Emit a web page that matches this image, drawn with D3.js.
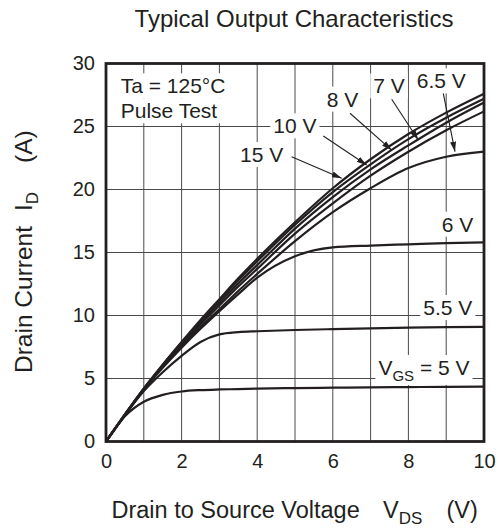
<!DOCTYPE html>
<html>
<head>
<meta charset="utf-8">
<script src="https://cdn.jsdelivr.net/npm/d3@7"></script>
<style>
  body { margin: 0; background: #fff; }
  text { font-family: "Liberation Sans", Arial, sans-serif; fill: #231f20; }
</style>
</head>
<body>
<div id="chart"></div>
<script>
// drain-source voltage samples (V)
var vds = [0, 0.5, 1, 1.5, 2, 2.5, 3, 3.5, 4, 5, 6, 7, 8, 9, 10]

// drain current (A) per gate voltage
var id5V  = [0, 2.0, 3.15, 3.7, 3.97, 4.08, 4.13, 4.16, 4.2, 4.24, 4.27, 4.3, 4.32, 4.34, 4.35]
var id55V = [0, 2.1, 4.0, 5.5, 6.8, 7.9, 8.5, 8.68, 8.75, 8.85, 8.92, 8.98, 9.03, 9.07, 9.1]
var id6V  = [0, 2.1, 4.1, 5.85, 7.45, 8.95, 10.35, 11.7, 13.0, 14.7, 15.4, 15.55, 15.65, 15.75, 15.8]
var id65V = [0, 2.1, 4.15, 5.95, 7.6, 9.1, 10.5, 11.95, 13.3, 15.9, 18.2, 20.1, 21.7, 22.6, 23.0]
var id7V  = [0, 2.1, 4.15, 6.0, 7.7, 9.3, 10.8, 12.3, 13.7, 16.5, 18.9, 21.1, 23.0, 24.7, 26.2]
var id8V  = [0, 2.15, 4.2, 6.05, 7.8, 9.45, 11.0, 12.55, 14.0, 16.9, 19.4, 21.6, 23.5, 25.3, 26.9]
var id10V = [0, 2.15, 4.2, 6.05, 7.85, 9.55, 11.2, 12.8, 14.3, 17.2, 19.8, 22.0, 24.0, 25.7, 27.2]
var id15V = [0, 2.15, 4.2, 6.1, 7.9, 9.65, 11.3, 12.95, 14.5, 17.4, 20.1, 22.4, 24.4, 26.1, 27.6]

var xTicks = [0, 2, 4, 6, 8, 10]
var yTicks = [0, 5, 10, 15, 20, 25, 30]

var series = [id5V, id55V, id6V, id65V, id7V, id8V, id10V, id15V]

var W = 502, H = 529
var x = d3.scaleLinear().domain([0, 10]).range([106, 484])
var y = d3.scaleLinear().domain([0, 30]).range([441.5, 63.5])

var svg = d3.select('#chart').append('svg')
  .attr('width', W).attr('height', H)

// grid
var grid = svg.append('g').attr('stroke', '#4a4a4a').attr('stroke-width', 1)
grid.selectAll('line.v').data(d3.range(1, 10)).enter().append('line')
  .attr('x1', function(d){ return x(d) }).attr('x2', function(d){ return x(d) })
  .attr('y1', y(0)).attr('y2', y(30))
grid.selectAll('line.h').data([5, 10, 15, 20, 25]).enter().append('line')
  .attr('y1', function(d){ return y(d) }).attr('y2', function(d){ return y(d) })
  .attr('x1', x(0)).attr('x2', x(10))

// labels with white boxes (they cut the grid)
var labels = [
  {t: '15 V', x: 3.545, y: 22.18},
  {t: '10 V', x: 4.426, y: 24.46},
  {t: '8 V', x: 5.839, y: 26.57},
  {t: '7 V', x: 7.071, y: 27.63},
  {t: '6.5 V', x: 8.22, y: 28.03},
  {t: '6 V', x: 8.881, y: 16.65},
  {t: '5.5 V', x: 8.394, y: 10.04}
]
var arrows = [
  {x1: 4.91, y1: 22.6, x2: 6.235, y2: 20.89},
  {x1: 5.749, y1: 24.25, x2: 6.897, y2: 21.94},
  {x1: 6.455, y1: 26.05, x2: 7.558, y2: 23.13},
  {x1: 7.558, y1: 27.16, x2: 8.262, y2: 23.93},
  {x1: 8.923, y1: 27.63, x2: 9.233, y2: 23.0}
]

var ann = svg.append('g')
var lab = ann.selectAll('text.lab').data(labels).enter().append('text')
  .attr('class', 'lab')
  .attr('x', function(d){ return x(d.x) })
  .attr('y', function(d){ return y(d.y) })
  .attr('font-size', 21)
  .text(function(d){ return d.t })

var vgs = ann.append('text').attr('x', x(7.206)).attr('y', y(5.28)).attr('font-size', 21)
vgs.append('tspan').text('V')
vgs.append('tspan').attr('font-size', 15).attr('dy', 6).text('GS')
vgs.append('tspan').attr('dy', -6).text(' = 5 V')

var ta = ann.append('g')
ta.append('text').attr('x', x(0.389)).attr('y', y(27.63)).attr('font-size', 21).text('Ta = 125\u00B0C')
ta.append('text').attr('x', x(0.389)).attr('y', y(25.65)).attr('font-size', 21).text('Pulse Test')

// white backgrounds
ann.selectAll('text').each(function(){
  var b = this.getBBox()
  d3.select(this.parentNode).insert('rect', function(){ return this.firstChild })
    .attr('x', b.x - 3).attr('y', b.y - 1)
    .attr('width', b.width + 6).attr('height', b.height + 2)
    .attr('fill', '#fff')
})

// frame
svg.append('rect')
  .attr('x', x(0)).attr('y', y(30))
  .attr('width', x(10) - x(0)).attr('height', y(0) - y(30))
  .attr('fill', 'none').attr('stroke', '#231f20').attr('stroke-width', 2.8)

// curves
var line = d3.line()
  .x(function(d, i){ return x(vds[i]) })
  .y(function(d){ return y(d) })
  .curve(d3.curveMonotoneX)

svg.append('g').selectAll('path').data(series).enter().append('path')
  .attr('d', line)
  .attr('fill', 'none')
  .attr('stroke', '#231f20')
  .attr('stroke-width', 2.2)

// arrows
svg.append('defs').append('marker')
  .attr('id', 'head').attr('viewBox', '0 0 10 6')
  .attr('refX', 10).attr('refY', 3)
  .attr('markerWidth', 10).attr('markerHeight', 6)
  .attr('markerUnits', 'userSpaceOnUse')
  .attr('orient', 'auto')
  .append('path').attr('d', 'M0,0L10,3L0,6Z').attr('fill', '#231f20')

svg.append('g').selectAll('line').data(arrows).enter().append('line')
  .attr('x1', function(d){ return x(d.x1) }).attr('y1', function(d){ return y(d.y1) })
  .attr('x2', function(d){ return x(d.x2) }).attr('y2', function(d){ return y(d.y2) })
  .attr('stroke', '#231f20').attr('stroke-width', 1.1)
  .attr('marker-end', 'url(#head)')

// axes (tick labels only)
var xAxis = svg.append('g').attr('transform', 'translate(0,' + y(0) + ')')
  .call(d3.axisBottom(x).tickValues(xTicks).tickSize(0).tickPadding(12))
xAxis.select('.domain').remove()
xAxis.selectAll('text').attr('font-size', 20).attr('fill', '#231f20')
  .attr('font-family', '"Liberation Sans", Arial, sans-serif')

var yAxis = svg.append('g').attr('transform', 'translate(' + x(0) + ',0)')
  .call(d3.axisLeft(y).tickValues(yTicks).tickSize(0).tickPadding(11))
yAxis.select('.domain').remove()
yAxis.selectAll('text').attr('font-size', 20).attr('fill', '#231f20')
  .attr('font-family', '"Liberation Sans", Arial, sans-serif')

// titles
svg.append('text').attr('x', 294).attr('y', 27).attr('text-anchor', 'middle')
  .attr('font-size', 24).text('Typical Output Characteristics')

var xl = svg.append('text').attr('y', 518).attr('font-size', 23.5)
xl.append('tspan').attr('x', 111.5).text('Drain to Source Voltage')
xl.append('tspan').attr('x', 383).text('V')
xl.append('tspan').attr('font-size', 17).attr('dy', 6).text('DS')
xl.append('tspan').attr('x', 446.5).attr('dy', -6).text('(V)')

var yl = svg.append('text').attr('transform', 'translate(32,0) rotate(-90)').attr('font-size', 24.5)
yl.append('tspan').attr('x', -373).text('Drain Current')
yl.append('tspan').attr('x', -211).text('I')
yl.append('tspan').attr('font-size', 17).attr('dy', 6).text('D')
yl.append('tspan').attr('x', -163).attr('dy', -6).text('(A)')
</script>
</body>
</html>
